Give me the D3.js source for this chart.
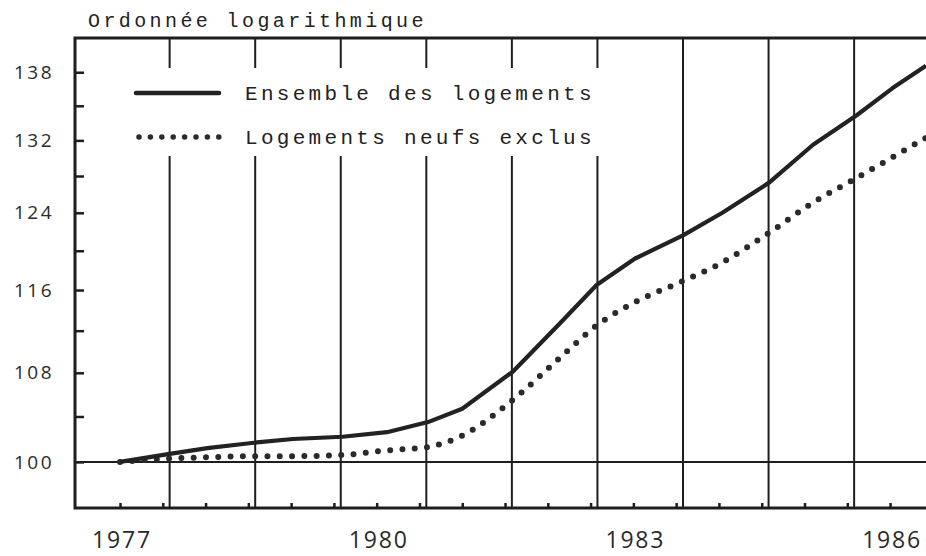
<!DOCTYPE html>
<html>
<head>
<meta charset="utf-8">
<script src="https://cdn.jsdelivr.net/npm/d3@7"></script>
<style>
  html, body { margin: 0; padding: 0; background: #fff; }
  svg { display: block; }
  .mono { font-family: "Liberation Mono", "DejaVu Sans Mono", monospace; font-size: 20px; letter-spacing: 3.4px; fill: #222; }
  .num { font-family: "Open Sans", "Noto Sans", sans-serif; fill: #2a2a2a; }
</style>
</head>
<body>
<svg id="chart" width="926" height="556"></svg>
<script>
// periods (decimal years, two readings a year)
var periodes = [1977.0, 1977.58, 1978.02, 1978.6, 1979.02, 1979.6, 1980.12, 1980.6,
                1981.0, 1981.59, 1982.14, 1982.57, 1983.02, 1983.58, 1984.04, 1984.59,
                1985.1, 1985.61, 1986.03, 1986.42];
// index values, base 100
var ensemble = [100.0, 100.7, 101.2, 101.7, 102.0, 102.2, 102.6, 103.5,
                104.7, 108.1, 112.7, 116.5, 119.2, 121.6, 124.0, 127.3,
                131.5, 134.9, 138.1, 140.8];
var neufsExclus = [100.0, 100.3, 100.4, 100.5, 100.5, 100.6, 101.0, 101.3,
                   102.3, 105.5, 109.4, 112.5, 114.8, 116.9, 118.8, 121.9,
                   125.1, 127.8, 130.1, 132.3];

var yTickValues = [100, 108, 116, 124, 132, 140];
var yTickLabels = ["100", "108", "116", "124", "132", "138"];
var yMinorTicks = [100, 104, 108, 112, 116, 120, 124, 128, 132, 136, 140];
var yearLabels = [1977, 1980, 1983, 1986];
var semestres = [1977, 1977.5, 1978, 1978.5, 1979, 1979.5, 1980, 1980.5, 1981, 1981.5,
                 1982, 1982.5, 1983, 1983.5, 1984, 1984.5, 1985, 1985.5, 1986];
var grilleX = [1977.58, 1978.58, 1979.58, 1980.58, 1981.58, 1982.58, 1983.58, 1984.58, 1985.58];
var legende = ["Ensemble des logements", "Logements neufs exclus"];

var svg = d3.select("#chart"),
    pLeft = 75, pTop = 38, pRight = 926, pBottom = 508;

var x = d3.scaleLinear().domain([1976.474, 1986.42]).range([pLeft, pRight]);
var y = d3.scaleLog().domain([96.1, 144.2]).range([pBottom, pTop]);

svg.append("defs").append("clipPath").attr("id", "plot")
  .append("rect").attr("x", pLeft).attr("y", pTop).attr("width", pRight - pLeft).attr("height", pBottom - pTop);

// vertical grid
svg.append("g").selectAll("line").data(grilleX).enter().append("line")
    .attr("x1", function(d) { return x(d); }).attr("x2", function(d) { return x(d); })
    .attr("y1", pTop).attr("y2", pBottom)
    .attr("stroke", "#1e1e1e").attr("stroke-width", 2);

// base 100 line
svg.append("line")
    .attr("x1", pLeft).attr("x2", pRight).attr("y1", y(100)).attr("y2", y(100))
    .attr("stroke", "#1e1e1e").attr("stroke-width", 2);

// frame: left, top, bottom
svg.append("path")
    .attr("d", "M" + pRight + "," + pTop + "H" + pLeft + "V" + pBottom + "H" + pRight)
    .attr("fill", "none").attr("stroke", "#1e1e1e").attr("stroke-width", 3);

// y minor ticks (inside)
svg.append("g").attr("transform", "translate(" + pLeft + ",0)")
  .call(d3.axisRight(y).tickValues(yMinorTicks).tickSize(9).tickFormat(""))
  .call(function(g) {
    g.select(".domain").remove();
    g.selectAll("line").attr("stroke", "#1e1e1e").attr("stroke-width", 2.5);
  });

// y labels
svg.append("g").selectAll("text").data(yTickValues).enter().append("text")
    .attr("class", "num")
    .attr("x", 54).attr("y", function(d) { return y(d); })
    .attr("dy", "0.35em")
    .attr("text-anchor", "end")
    .style("font-size", "19px").style("letter-spacing", "2.5px")
    .text(function(d, i) { return yTickLabels[i]; });

// x minor ticks (upward on bottom border)
svg.append("g").attr("transform", "translate(0," + pBottom + ")")
  .call(d3.axisTop(x).tickValues(semestres).tickSize(5).tickFormat(""))
  .call(function(g) {
    g.select(".domain").remove();
    g.selectAll("line").attr("stroke", "#1e1e1e").attr("stroke-width", 2.5);
  });

// year labels
svg.append("g").selectAll("text").data(yearLabels).enter().append("text")
    .attr("class", "num")
    .attr("x", function(d) { return x(d) + 2; }).attr("y", 548)
    .attr("text-anchor", "middle")
    .style("font-size", "23px").style("letter-spacing", "1.8px")
    .text(function(d) { return d; });

// title
svg.append("text").attr("class", "mono")
    .attr("x", 88).attr("y", 27)
    .text("Ordonnée logarithmique");

// series
var pts1 = periodes.map(function(t, i) { return [t, ensemble[i]]; });
var pts2 = periodes.map(function(t, i) { return [t, neufsExclus[i]]; });

var line = d3.line().x(function(d) { return x(d[0]); }).y(function(d) { return y(d[1]); });
var smooth = d3.line().curve(d3.curveMonotoneX)
    .x(function(d) { return x(d[0]); }).y(function(d) { return y(d[1]); });

var series = svg.append("g").attr("clip-path", "url(#plot)");

series.append("path").datum(pts2)
    .attr("d", smooth)
    .attr("fill", "none").attr("stroke", "#2a2a2a")
    .attr("stroke-width", 6).attr("stroke-linecap", "round")
    .attr("stroke-dasharray", "0,12.3");

series.append("path").datum(pts1)
    .attr("d", line)
    .attr("fill", "none").attr("stroke", "#222")
    .attr("stroke-width", 4.2).attr("stroke-linejoin", "round");

// legend
var leg = svg.append("g");
leg.append("rect").attr("x", 128).attr("y", 68).attr("width", 478).attr("height", 88).attr("fill", "#fff");
leg.append("line").attr("x1", 136).attr("x2", 219).attr("y1", 93).attr("y2", 93)
    .attr("stroke", "#222").attr("stroke-width", 4.5).attr("stroke-linecap", "round");
leg.append("line").attr("x1", 139).attr("x2", 219).attr("y1", 137).attr("y2", 137)
    .attr("stroke", "#2a2a2a").attr("stroke-width", 5.5).attr("stroke-linecap", "round")
    .attr("stroke-dasharray", "0,11.4");
leg.selectAll("text.mono").data(legende).enter().append("text")
    .attr("class", "mono")
    .attr("x", 245).attr("y", function(d, i) { return 100 + i * 44; })
    .style("font-size", "21px").style("letter-spacing", "3.3px")
    .text(function(d) { return d; });
</script>
</body>
</html>
